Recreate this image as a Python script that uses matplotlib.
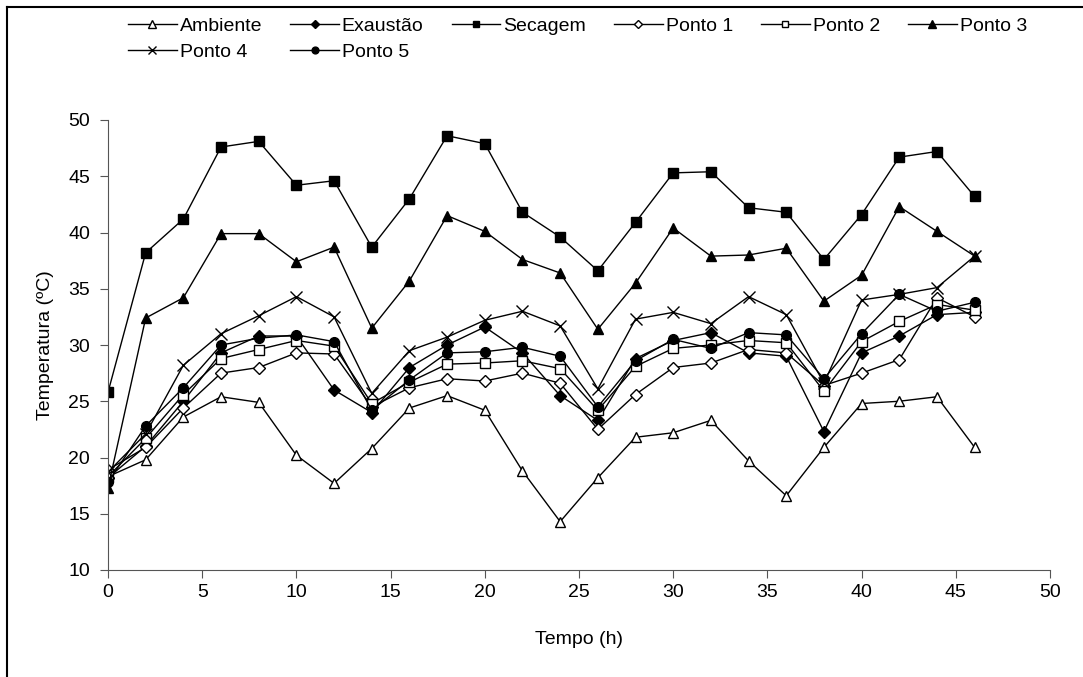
import matplotlib.pyplot as plt
from matplotlib.lines import Line2D

plt.rcParams['font.family'] = ['Liberation Sans', 'DejaVu Sans']

tempo = [0, 2, 4, 6, 8, 10, 12, 14, 16, 18, 20, 22, 24, 26, 28, 30, 32, 34, 36, 38, 40, 42, 44, 46]

ambiente = [18.3, 19.8, 23.6, 25.4, 24.9, 20.2, 17.7, 20.8, 24.4, 25.5, 24.2, 18.8,
            14.3, 18.2, 21.8, 22.2, 23.3, 19.7, 16.6, 20.9, 24.8, 25.0, 25.4, 20.9]
exaustao = [18.2, 21.0, 25.0, 29.3, 30.8, 30.8, 26.0, 24.0, 28.0, 30.0, 31.6, 29.3,
            25.5, 23.3, 28.8, 30.4, 31.1, 29.3, 29.0, 22.3, 29.3, 30.8, 32.7, 32.9]
secagem = [25.8, 38.2, 41.2, 47.6, 48.1, 44.2, 44.6, 38.7, 43.0, 48.6, 47.9, 41.8,
           39.6, 36.6, 40.9, 45.3, 45.4, 42.2, 41.8, 37.6, 41.6, 46.7, 47.2, 43.2]
ponto1 = [18.9, 20.9, 24.4, 27.5, 28.0, 29.3, 29.2, 24.5, 26.2, 27.0, 26.8, 27.5,
          26.6, 22.5, 25.6, 28.0, 28.4, 29.6, 29.3, 26.4, 27.5, 28.7, 34.2, 32.5]
ponto2 = [18.3, 21.7, 25.6, 28.8, 29.6, 30.4, 29.9, 24.8, 26.7, 28.3, 28.4, 28.6,
          27.9, 24.2, 28.1, 29.7, 30.0, 30.4, 30.2, 25.9, 30.3, 32.1, 33.6, 33.1]
ponto3 = [17.3, 32.4, 34.2, 39.9, 39.9, 37.4, 38.7, 31.5, 35.7, 41.5, 40.1, 37.6,
          36.4, 31.4, 35.5, 40.4, 37.9, 38.0, 38.6, 33.9, 36.2, 42.3, 40.1, 37.9]
ponto4 = [18.7, 22.1, 28.2, 31.0, 32.6, 34.3, 32.5, 25.7, 29.5, 30.7, 32.2, 33.0,
          31.7, 26.1, 32.3, 32.9, 31.9, 34.3, 32.7, 26.6, 34.0, 34.5, 35.1, 37.9]
ponto5 = [17.8, 22.8, 26.2, 30.0, 30.6, 30.9, 30.3, 24.2, 26.9, 29.3, 29.4, 29.8,
          29.0, 24.5, 28.6, 30.5, 29.7, 31.1, 30.9, 27.0, 31.0, 34.5, 33.0, 33.8]

fig = plt.figure(figsize=(10.83, 6.77), dpi=100)
ax = fig.add_axes([108 / 1083, 107 / 677, 942 / 1083, 450 / 677])

ms = 7
h_amb, = ax.plot(tempo, ambiente, 'k-', lw=1, marker='^', ms=ms + 0.5, mfc='white', mec='black', label='Ambiente')
h_exa, = ax.plot(tempo, exaustao, 'k-', lw=1, marker='D', ms=ms - 1, mfc='black', mec='black', label='Exaustão')
h_sec, = ax.plot(tempo, secagem, 'k-', lw=1, marker='s', ms=ms, mfc='black', mec='black', label='Secagem')
h_p1, = ax.plot(tempo, ponto1, 'k-', lw=1, marker='D', ms=ms - 1, mfc='white', mec='black', label='Ponto 1')
h_p2, = ax.plot(tempo, ponto2, 'k-', lw=1, marker='s', ms=ms, mfc='white', mec='black', label='Ponto 2')
h_p3, = ax.plot(tempo, ponto3, 'k-', lw=1, marker='^', ms=ms + 0.5, mfc='black', mec='black', label='Ponto 3')
h_p4, = ax.plot(tempo, ponto4, 'k-', lw=1, marker='x', ms=ms + 1, mec='black', mew=1, label='Ponto 4')
h_p5, = ax.plot(tempo, ponto5, 'k-', lw=1, marker='o', ms=ms, mfc='black', mec='black', label='Ponto 5')

ax.set_xlim(0, 50)
ax.set_ylim(10, 50)
ax.set_xticks(range(0, 51, 5))
ax.set_yticks(range(10, 51, 5))
ax.spines['top'].set_visible(False)
ax.spines['right'].set_visible(False)
for s in ('left', 'bottom'):
    ax.spines[s].set_color('#555555')
ax.tick_params(direction='out', length=6, labelsize=14, color='#555555')
ax.tick_params(axis='x', pad=4)
ax.tick_params(axis='y', pad=7)
ax.set_xlabel('Tempo (h)', fontsize=14, labelpad=22)
ax.set_ylabel('Temperatura (ºC)', fontsize=14, labelpad=10)

# column-major order so rows read Ambiente..Ponto 3 / Ponto 4, Ponto 5
handles = [h_amb, h_p4, h_exa, h_p5, h_sec, h_p1, h_p2, h_p3]
labels = ['Ambiente', 'Ponto 4', 'Exaustão', 'Ponto 5', 'Secagem', 'Ponto 1', 'Ponto 2', 'Ponto 3']
fig.legend(handles, labels, ncol=6, loc='upper left', bbox_to_anchor=(128 / 1083, 1 - 17 / 677),
           frameon=False, fontsize=14, handlelength=2.5, handletextpad=0.15,
           columnspacing=1.45, markerscale=0.7, labelspacing=0.45, borderpad=0, borderaxespad=0)

# outer frame: only top and left edges show in the reference
fig.add_artist(Line2D([7 / 1083, 1], [1 - 7 / 677, 1 - 7 / 677], transform=fig.transFigure, color='black', lw=1.5))
fig.add_artist(Line2D([7 / 1083, 7 / 1083], [0, 1 - 7 / 677], transform=fig.transFigure, color='black', lw=1.5))

fig.savefig('out.png', dpi=100)
